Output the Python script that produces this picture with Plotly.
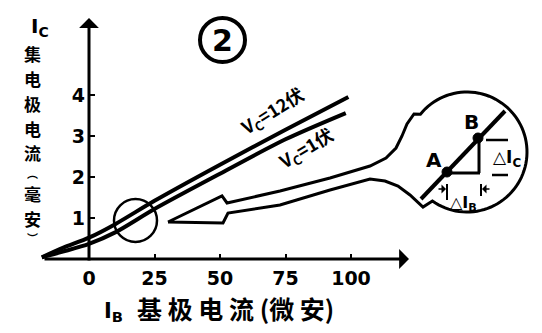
import numpy as np
import plotly.graph_objects as go

# ---- data ----
ib_12 = [-18, -10, 0, 10, 25, 50, 75, 99]
ic_12 = [0.04, 0.27, 0.52, 0.85, 1.42, 2.3, 3.15, 3.95]
ib_1 = [-18, -10, 0, 10, 25, 50, 75, 98]
ic_1 = [0.04, 0.18, 0.37, 0.65, 1.22, 2.08, 2.92, 3.56]
x_ticks = [0, 25, 50, 75, 100]
y_ticks = [1, 2, 3, 4]
x_ticktext = ["0", "25", "50", "75", "100"]
y_ticktext = ["1", "2", "3", "4"]
label_12 = "<b>V<sub>C</sub>=12伏</b>"
label_1 = "<b>V<sub>C</sub>=1伏</b>"
y_title_main = ["集", "电", "极", "电", "流", "毫", "安"]
y_title_parens = ["︵", "︶"]
x_title = "基 极 电 流 (微 安)"

W, H = 542, 333
# pixel <-> data helpers (layout geometry)
X0PX, Y0PX, SX, SY = 89.0, 259.0, 2.62, 41.0
def X(px):
    return (px - X0PX) / SX
def Y(py):
    return (Y0PX - py) / SY

INK = "black"
fig = go.Figure()
fig.add_trace(go.Scatter(x=ib_12, y=ic_12, mode="lines", line=dict(color=INK, width=4, shape="spline", smoothing=0.8),
                         hoverinfo="skip", showlegend=False))
fig.add_trace(go.Scatter(x=ib_1, y=ic_1, mode="lines", line=dict(color=INK, width=4, shape="spline", smoothing=0.8),
                         hoverinfo="skip", showlegend=False))

shapes = []
ann = []

# axis arrows
ann.append(dict(x=X(409), y=0, ax=X(43), ay=0, axref="x", ayref="y", xref="x", yref="y", text="",
                showarrow=True, arrowhead=1, arrowsize=1.1, arrowwidth=3, arrowcolor=INK))
ann.append(dict(x=0, y=Y(18), ax=0, ay=Y(262), axref="x", ayref="y", xref="x", yref="y", text="",
                showarrow=True, arrowhead=1, arrowsize=1.1, arrowwidth=3, arrowcolor=INK))

# circled number 2
shapes.append(dict(type="circle", xref="x", yref="y", x0=X(200), x1=X(245), y0=Y(62), y1=Y(18),
                   line=dict(color=INK, width=4)))
ann.append(dict(x=X(222.5), y=Y(40), xref="x", yref="y", text="<b>2</b>", showarrow=False,
                font=dict(size=30, color=INK, family="DejaVu Sans")))

# small circle around region of interest
shapes.append(dict(type="circle", xref="x", yref="y", x0=X(114), x1=X(157), y0=Y(242), y1=Y(199),
                   line=dict(color=INK, width=2.5)))

# balloon outline (magnifier with arrow)
pts = [(168, 222), (222, 196), (227, 203), (280, 191), (330, 178), (370, 166), (386, 158),
       (396, 148), (402, 136), (407, 124), (414, 114)]
cx, cy, r = 467.0, 152.0, 60.0
a0 = np.arctan2(114 - cy, 414 - cx)
a1 = np.arctan2(207 - cy, 423 - cx)
angs = np.linspace(a0, a1 if a1 > a0 else a1 + 2 * np.pi, 80)
for a in angs[1:-1]:
    pts.append((cx + r * np.cos(a), cy + r * np.sin(a)))
pts += [(423, 207), (410, 195), (398, 186), (385, 181), (370, 179), (330, 190), (280, 205), (228, 213),
        (223, 223), (168, 222)]
path = "M " + " L ".join(f"{X(p[0]):.3f},{Y(p[1]):.3f}" for p in pts)
shapes.append(dict(type="path", xref="x", yref="y", path=path, line=dict(color=INK, width=3)))

# inside the magnifier: line, A, B, triangle
shapes.append(dict(type="line", xref="x", yref="y", x0=X(421), y0=Y(199), x1=X(505), y1=Y(111),
                   line=dict(color=INK, width=4)))
shapes.append(dict(type="line", xref="x", yref="y", x0=X(447), y0=Y(173), x1=X(480), y1=Y(173),
                   line=dict(color=INK, width=3)))
shapes.append(dict(type="line", xref="x", yref="y", x0=X(479), y0=Y(173), x1=X(479), y1=Y(138),
                   line=dict(color=INK, width=3)))
for (px, py) in [(447, 172), (478, 138)]:
    shapes.append(dict(type="circle", xref="x", yref="y", x0=X(px - 5), x1=X(px + 5), y0=Y(py + 5), y1=Y(py - 5),
                       fillcolor=INK, line=dict(color=INK, width=1)))
# dimension bars for delta Ic
shapes.append(dict(type="line", xref="x", yref="y", x0=X(486), y0=Y(140), x1=X(508), y1=Y(140),
                   line=dict(color=INK, width=2.5)))
shapes.append(dict(type="line", xref="x", yref="y", x0=X(492), y0=Y(175), x1=X(508), y1=Y(175),
                   line=dict(color=INK, width=2.5)))
# dimension ticks and arrows for delta Ib
shapes.append(dict(type="line", xref="x", yref="y", x0=X(447), y0=Y(184), x1=X(447), y1=Y(200),
                   line=dict(color=INK, width=2)))
shapes.append(dict(type="line", xref="x", yref="y", x0=X(481), y0=Y(184), x1=X(481), y1=Y(196),
                   line=dict(color=INK, width=2)))
ann.append(dict(x=X(446), y=Y(189), ax=X(437), ay=Y(189), axref="x", ayref="y", xref="x", yref="y", text="",
                showarrow=True, arrowhead=1, arrowsize=1, arrowwidth=1.5, arrowcolor=INK))
ann.append(dict(x=X(482), y=Y(189), ax=X(491), ay=Y(189), axref="x", ayref="y", xref="x", yref="y", text="",
                showarrow=True, arrowhead=1, arrowsize=1, arrowwidth=1.5, arrowcolor=INK))

lab_font = dict(size=20, color=INK, family="DejaVu Sans")
ann.append(dict(x=X(434), y=Y(160), xref="x", yref="y", text="<b>A</b>", showarrow=False, font=lab_font))
ann.append(dict(x=X(471), y=Y(122), xref="x", yref="y", text="<b>B</b>", showarrow=False, font=lab_font))
ann.append(dict(x=X(507), y=Y(158), xref="x", yref="y", text="<b>△I<sub>C</sub></b>", showarrow=False,
                font=dict(size=17, color=INK, family="DejaVu Sans")))
ann.append(dict(x=X(463), y=Y(203), xref="x", yref="y", text="<b>△I<sub>B</sub></b>", showarrow=False,
                font=dict(size=16, color=INK, family="DejaVu Sans")))

# curve labels
ann.append(dict(x=X(272), y=Y(111), xref="x", yref="y", text=label_12, showarrow=False, textangle=-32,
                font=dict(size=18, color=INK, family="Noto Sans CJK SC")))
ann.append(dict(x=X(306), y=Y(148), xref="x", yref="y", text=label_1, showarrow=False, textangle=-31,
                font=dict(size=18, color=INK, family="Noto Sans CJK SC")))

# y title (vertical)
ann.append(dict(x=X(40), y=Y(27), xref="x", yref="y", text="<b>I<sub>C</sub></b>", showarrow=False,
                font=dict(size=20, color=INK, family="DejaVu Sans")))
y_char_py = [53, 78, 103, 128, 152, 193, 218]
for ch, py in zip(y_title_main, y_char_py):
    ann.append(dict(x=X(32), y=Y(py), xref="x", yref="y", text=ch, showarrow=False,
                    font=dict(size=17, color=INK, family="Noto Sans CJK SC", weight="bold")))
for ch, py in zip(y_title_parens, [173, 238]):
    ann.append(dict(x=X(32), y=Y(py), xref="x", yref="y", text=ch, showarrow=False,
                    font=dict(size=11, color=INK, family="Noto Sans CJK SC", weight="bold")))

# x title
ann.append(dict(x=X(113), y=Y(312), xref="x", yref="y", text="<b>I<sub>B</sub></b>", showarrow=False,
                font=dict(size=21, color=INK, family="DejaVu Sans")))
ann.append(dict(x=X(235), y=Y(308), xref="x", yref="y", text=x_title, showarrow=False,
                font=dict(size=25, color=INK, family="Noto Sans CJK SC", weight="bold")))

tick_font = dict(size=19, color=INK, family="DejaVu Sans", weight="bold")
fig.update_layout(
    width=W, height=H, margin=dict(l=0, r=0, t=0, b=0),
    paper_bgcolor="white", plot_bgcolor="white", showlegend=False,
    xaxis=dict(range=[X(0), X(W)], domain=[0, 1], anchor="free", position=(H - Y0PX) / H,
               tickvals=x_ticks, ticktext=x_ticktext, ticks="inside", ticklen=5, tickwidth=2, tickcolor=INK,
               showline=False, showgrid=False, zeroline=False, tickfont=tick_font, ticklabelstandoff=6,
               fixedrange=True),
    yaxis=dict(range=[Y(H), Y(0)], domain=[0, 1], anchor="free", position=X0PX / W,
               tickvals=y_ticks, ticktext=y_ticktext, ticks="inside", ticklen=5, tickwidth=2, tickcolor=INK,
               showline=False, showgrid=False, zeroline=False, tickfont=tick_font, ticklabelstandoff=4,
               fixedrange=True),
    shapes=shapes, annotations=ann,
)
fig.write_html("out.html")
